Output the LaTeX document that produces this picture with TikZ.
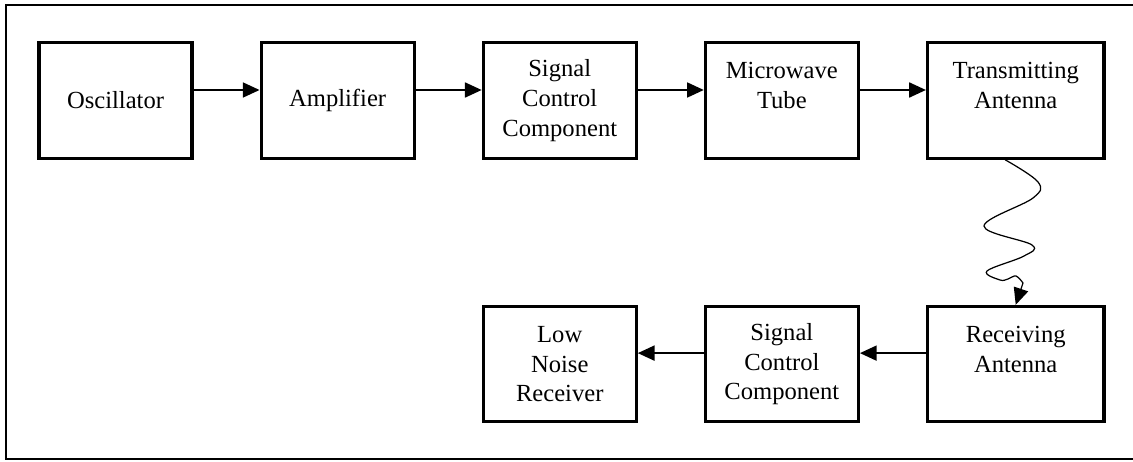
\documentclass[tikz,border=0pt]{standalone}
\usepackage{fontspec}
\setmainfont{Liberation Serif}
\usetikzlibrary{positioning, arrows.meta}

\begin{document}
\begin{tikzpicture}[x=0.02cm, y=-0.02cm,
    block/.style={draw, line width=1.8pt, minimum width=3.06cm, minimum height=2.31cm,
      align=center, inner sep=0pt, font={\fontsize{14}{17}\selectfont}},
    wideblock/.style={block, minimum width=3.53cm},
    flow/.style={-{Triangle[length=9.5pt, width=8.5pt]}, line width=1.1pt},
    node distance=1.32cm]
  \useasboundingbox (0,0) rectangle (1133,462);
  \draw[line width=1.1pt] (6,5) rectangle (1140,459);

  % transmitter chain
  \node[block] (osc) at (115.5,100.5) {Oscillator};
  \node[block, right=of osc] (amp) {Amplifier};
  \node[block, right=of amp] (sigtx) {Signal\\Control\\Component};
  \node[block, right=of sigtx] (tube) {Microwave\\Tube\\\mbox{}};
  \node[wideblock, right=of tube] (txant) {Transmitting\\Antenna\\\mbox{}};

  % receiver chain
  \node[wideblock, below=2.9cm of txant] (rxant) {Receiving\\Antenna\\\mbox{}};
  \node[block, left=of rxant] (sigrx) {Signal\\Control\\Component};
  \node[block, left=of sigrx] (lnr) {Low\\Noise\\Receiver};

  \draw[flow] ([yshift=2.1mm]osc.east) -- ([yshift=2.1mm]amp.west);
  \draw[flow] ([yshift=2.1mm]amp.east) -- ([yshift=2.1mm]sigtx.west);
  \draw[flow] ([yshift=2.1mm]sigtx.east) -- ([yshift=2.1mm]tube.west);
  \draw[flow] ([yshift=2.1mm]tube.east) -- ([yshift=2.1mm]txant.west);
  \draw[flow] ([yshift=2.2mm]rxant.west) -- ([yshift=2.2mm]sigrx.east);
  \draw[flow] ([yshift=2.2mm]sigrx.west) -- ([yshift=2.2mm]lnr.east);

  % wireless link
  \coordinate (wave) at ([xshift=-0.21cm]txant.south);
  \draw[flow, line width=0.7pt] plot[smooth, tension=0.6] coordinates {(wave) (1038,182) (1033,198)
    (984,226) (1032,245) (1024,256) (987,271) (1000,280) (1008,279) (1016,276) (1023,283)}
    -- (rxant.north);
\end{tikzpicture}
\end{document}
